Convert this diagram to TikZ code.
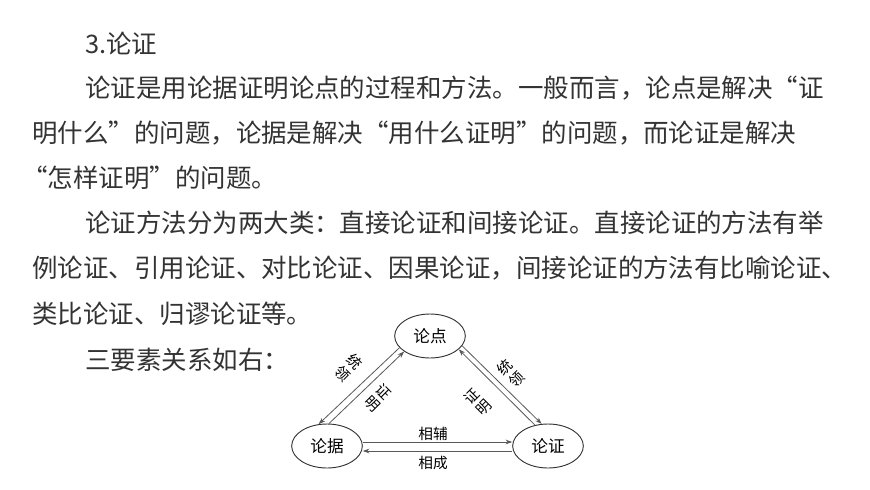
\documentclass[tikz,border=0pt]{standalone}
\usepackage{fontspec}
\newfontfamily\cjk{Noto Sans CJK SC}
\usetikzlibrary{calc,arrows.meta,shapes.geometric}
\begin{document}
\begin{tikzpicture}[x=0.75pt,y=-0.75pt,
  txt/.style={anchor=west,inner sep=0pt,text=black!80,font=\cjk\fontsize{19.1}{19.1}\selectfont},
  ell/.style={draw=black!80,ellipse,line width=0.7pt,minimum width=53pt,minimum height=33pt,inner sep=0pt,font=\cjk\fontsize{12.5}{12.5}\selectfont},
  lab/.style={inner sep=0pt,align=center,font=\cjk\fontsize{11}{12.5}\selectfont},
  arr/.style={draw=black!65,line width=0.6pt,-{Stealth[length=5pt,width=3.5pt]}}]
\path[fill=white] (0,0) rectangle (870,489);
\node[txt] (l1) at (85,44) {3.论证};
\node[txt] (l2) at (85,88) {论证是用论据证明论点的过程和方法。一般而言，论点是解决“证};
\node[txt] (l3) at (32,133) {明什么”的问题，论据是解决“用什么证明”的问题，而论证是解决};
\node[txt] (l4) at (22,178) {“怎样证明”的问题。};
\node[txt] (l5) at (85,223) {论证方法分为两大类：直接论证和间接论证。直接论证的方法有举};
\node[txt] (l6) at (32,268) {例论证、引用论证、对比论证、因果论证，间接论证的方法有比喻论证、};
\node[txt] (l7) at (32,314) {类比论证、归谬论证等。};
\node[txt] (l8) at (85,360) {三要素关系如右：};

\node[ell] (dian) at (430,336) {论点};
\node[ell] (ju) at (327,446) {论据};
\node[ell] (zheng) at (548,446) {论证};

\draw[arr] (dian.201) -- (ju.111);
\draw[arr] (ju.85) -- (dian.211);
\draw[arr] (dian.-17) -- (zheng.106);
\draw[arr] (zheng.122) -- (dian.-25);
\draw[arr] ($(ju.east)+(0,-4)$) -- ($(zheng.west)+(0,-4)$);
\draw[arr] ($(zheng.west)+(0,5)$) -- ($(ju.east)+(0,5)$);

\node[lab,rotate=-45] (t1) at (349,368) {统\\领};
\node[lab,rotate=-45] (t2) at (378,398) {证\\明};
\node[lab,rotate=45] (t3) at (511,373) {统\\领};
\node[lab,rotate=45] (t4) at (478,402) {证\\明};
\node[lab] (t5) at (433,434) {相辅};
\node[lab] (t6) at (433,463) {相成};
\end{tikzpicture}
\end{document}
